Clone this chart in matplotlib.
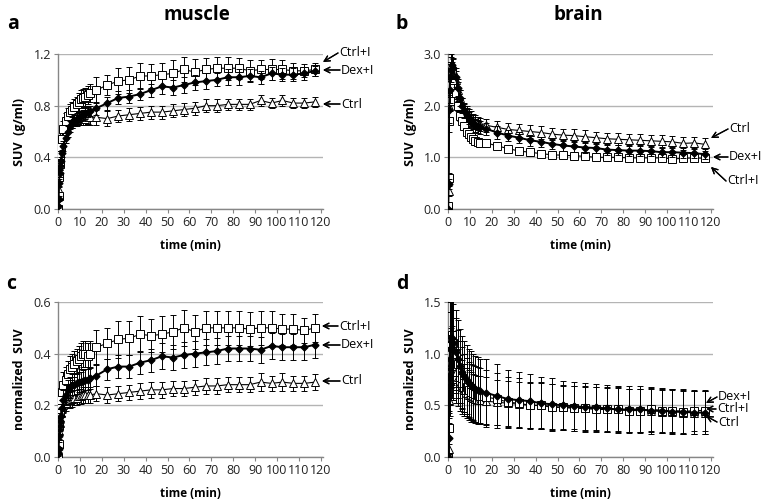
import matplotlib.pyplot as plt

plt.rcParams['font.family'] = ['Open Sans', 'DejaVu Sans']

# frame mid-times (min)
time = [0.1, 0.3, 0.5, 0.7, 0.9, 1.25, 1.75, 2.5, 3.5, 4.5, 5.5, 6.5, 7.5, 8.5, 9.5,
        10.5, 11.5, 12.5, 13.5, 14.5,
        17.5, 22.5, 27.5, 32.5, 37.5, 42.5, 47.5, 52.5, 57.5, 62.5, 67.5, 72.5, 77.5,
        82.5, 87.5, 92.5, 97.5, 102.5, 107.5, 112.5, 117.5]

# a: muscle SUV
a_ctrl_i = [0.0, 0.1, 0.25, 0.35, 0.42, 0.48, 0.54, 0.62, 0.68, 0.72, 0.75, 0.77, 0.79, 0.81, 0.83,
            0.85, 0.86, 0.87, 0.88, 0.9,
            0.92, 0.96, 0.99, 1.0, 1.03, 1.03, 1.04, 1.05, 1.08, 1.06, 1.08, 1.09, 1.09,
            1.09, 1.07, 1.08, 1.08, 1.08, 1.07, 1.07, 1.08]
a_ctrl_i_err = [0.01, 0.03, 0.05, 0.05, 0.05, 0.05, 0.05, 0.06, 0.06, 0.06, 0.06, 0.06, 0.06, 0.06, 0.07,
                0.07, 0.07, 0.07, 0.07, 0.07,
                0.1, 0.08, 0.1, 0.1, 0.1, 0.09, 0.09, 0.1, 0.1, 0.1, 0.09, 0.09, 0.09,
                0.08, 0.08, 0.07, 0.08, 0.07, 0.06, 0.05, 0.05]
a_dex_i = [0.02, 0.08, 0.2, 0.28, 0.33, 0.37, 0.43, 0.49, 0.55, 0.6, 0.64, 0.67, 0.69, 0.7, 0.71,
           0.72, 0.73, 0.74, 0.75, 0.76,
           0.78, 0.82, 0.86, 0.87, 0.89, 0.92, 0.95, 0.94, 0.96, 0.98, 0.99, 1.0, 1.02,
           1.02, 1.03, 1.02, 1.05, 1.04, 1.04, 1.05, 1.07]
a_dex_i_err = [0.01, 0.02, 0.03, 0.03, 0.03, 0.03, 0.03, 0.04, 0.04, 0.04, 0.04, 0.04, 0.04, 0.04, 0.04,
               0.04, 0.04, 0.04, 0.04, 0.04,
               0.05, 0.05, 0.05, 0.05, 0.05, 0.05, 0.06, 0.06, 0.06, 0.06, 0.06, 0.05, 0.06,
               0.06, 0.05, 0.05, 0.05, 0.05, 0.05, 0.05, 0.04]
a_ctrl = [0.02, 0.15, 0.28, 0.36, 0.42, 0.48, 0.54, 0.6, 0.64, 0.66, 0.67, 0.68, 0.69, 0.69, 0.7,
          0.7, 0.7, 0.7, 0.71, 0.71,
          0.71, 0.7, 0.72, 0.73, 0.74, 0.75, 0.75, 0.76, 0.77, 0.78, 0.8, 0.8, 0.81,
          0.81, 0.81, 0.84, 0.82, 0.84, 0.82, 0.82, 0.83]
a_ctrl_err = [0.01, 0.03, 0.04, 0.04, 0.05, 0.05, 0.05, 0.05, 0.05, 0.05, 0.05, 0.05, 0.05, 0.05, 0.05,
              0.05, 0.05, 0.05, 0.05, 0.06,
              0.06, 0.06, 0.05, 0.05, 0.05, 0.05, 0.05, 0.05, 0.05, 0.05, 0.05, 0.05, 0.04,
              0.04, 0.04, 0.04, 0.04, 0.04, 0.04, 0.04, 0.04]

# b: brain SUV
b_ctrl_i = [0.05, 0.6, 1.7, 2.1, 2.4, 2.6, 2.65, 2.5, 2.25, 2.0, 1.8, 1.7, 1.6, 1.5, 1.45,
            1.4, 1.35, 1.32, 1.3, 1.28,
            1.28, 1.22, 1.17, 1.12, 1.1, 1.07, 1.05, 1.04, 1.03, 1.02, 1.0, 1.0, 1.0,
            0.99, 0.99, 0.99, 0.99, 0.97, 0.98, 0.99, 0.98]
b_ctrl_i_err = [0.02, 0.1, 0.2, 0.2, 0.2, 0.2, 0.2, 0.15, 0.12, 0.1, 0.1, 0.08, 0.08, 0.07, 0.07,
                0.06, 0.06, 0.06, 0.06, 0.06,
                0.05, 0.05, 0.05, 0.05, 0.05, 0.05, 0.05, 0.05, 0.05, 0.05, 0.05, 0.05, 0.05,
                0.05, 0.05, 0.05, 0.05, 0.05, 0.05, 0.05, 0.05]
b_dex_i = [0.0, 0.48, 1.92, 2.3, 2.55, 2.7, 2.78, 2.72, 2.55, 2.35, 2.15, 2.0, 1.9, 1.82, 1.76,
           1.7, 1.66, 1.62, 1.6, 1.58,
           1.55, 1.48, 1.42, 1.38, 1.33, 1.3, 1.26, 1.23, 1.21, 1.19, 1.18, 1.15, 1.14,
           1.13, 1.13, 1.12, 1.1, 1.1, 1.09, 1.08, 1.06]
b_dex_i_err = [0.02, 0.1, 0.25, 0.25, 0.25, 0.25, 0.25, 0.2, 0.18, 0.16, 0.15, 0.14, 0.13, 0.13, 0.12,
               0.12, 0.12, 0.12, 0.12, 0.12,
               0.12, 0.12, 0.11, 0.11, 0.11, 0.1, 0.1, 0.1, 0.1, 0.1, 0.1, 0.1, 0.1,
               0.1, 0.1, 0.1, 0.1, 0.1, 0.1, 0.1, 0.1]
b_ctrl = [0.05, 0.35, 2.0, 2.35, 2.6, 2.75, 2.8, 2.7, 2.5, 2.3, 2.15, 2.0, 1.92, 1.85, 1.8,
          1.75, 1.7, 1.68, 1.66, 1.64,
          1.62, 1.58, 1.54, 1.52, 1.5, 1.48, 1.45, 1.43, 1.42, 1.4, 1.38, 1.36, 1.35,
          1.34, 1.33, 1.32, 1.31, 1.3, 1.27, 1.28, 1.25]
b_ctrl_err = [0.02, 0.1, 0.25, 0.25, 0.25, 0.25, 0.25, 0.2, 0.18, 0.16, 0.15, 0.15, 0.14, 0.14, 0.14,
              0.14, 0.14, 0.13, 0.13, 0.13,
              0.13, 0.13, 0.13, 0.12, 0.12, 0.12, 0.12, 0.12, 0.12, 0.12, 0.12, 0.12, 0.12,
              0.12, 0.12, 0.12, 0.12, 0.12, 0.12, 0.12, 0.12]

# c: muscle normalized SUV
c_ctrl_i = [0.0, 0.05, 0.12, 0.17, 0.2, 0.22, 0.25, 0.28, 0.3, 0.32, 0.34, 0.35, 0.36, 0.37, 0.38,
            0.39, 0.4, 0.4, 0.39, 0.4,
            0.425, 0.44, 0.455, 0.46, 0.475, 0.47, 0.475, 0.485, 0.5, 0.485, 0.5, 0.5, 0.5,
            0.5, 0.495, 0.5, 0.5, 0.495, 0.495, 0.49, 0.5]
c_ctrl_i_err = [0.01, 0.02, 0.03, 0.04, 0.04, 0.04, 0.04, 0.05, 0.05, 0.05, 0.05, 0.05, 0.05, 0.05, 0.05,
                0.05, 0.05, 0.05, 0.05, 0.05,
                0.065, 0.06, 0.07, 0.065, 0.07, 0.065, 0.07, 0.065, 0.07, 0.065, 0.065, 0.065, 0.065,
                0.065, 0.065, 0.065, 0.065, 0.06, 0.06, 0.05, 0.055]
c_dex_i = [0.01, 0.03, 0.08, 0.12, 0.14, 0.16, 0.19, 0.22, 0.24, 0.26, 0.27, 0.28, 0.28, 0.285, 0.29,
           0.29, 0.295, 0.3, 0.3, 0.305,
           0.315, 0.34, 0.35, 0.35, 0.365, 0.375, 0.39, 0.385, 0.395, 0.4, 0.405, 0.41, 0.42,
           0.42, 0.42, 0.415, 0.43, 0.425, 0.425, 0.425, 0.435]
c_dex_i_err = [0.005, 0.01, 0.02, 0.03, 0.03, 0.03, 0.03, 0.04, 0.04, 0.04, 0.04, 0.04, 0.04, 0.04, 0.04,
               0.04, 0.04, 0.04, 0.04, 0.04,
               0.04, 0.04, 0.045, 0.045, 0.045, 0.045, 0.05, 0.05, 0.05, 0.05, 0.05, 0.05, 0.05,
               0.05, 0.05, 0.05, 0.05, 0.05, 0.05, 0.05, 0.05]
c_ctrl = [0.01, 0.05, 0.1, 0.13, 0.15, 0.17, 0.19, 0.2, 0.21, 0.22, 0.22, 0.225, 0.23, 0.23, 0.235,
          0.235, 0.24, 0.24, 0.24, 0.24,
          0.245, 0.24, 0.245, 0.25, 0.255, 0.26, 0.26, 0.265, 0.265, 0.27, 0.275, 0.275, 0.28,
          0.28, 0.28, 0.29, 0.285, 0.29, 0.285, 0.285, 0.29]
c_ctrl_err = [0.005, 0.01, 0.02, 0.03, 0.03, 0.03, 0.03, 0.03, 0.03, 0.03, 0.03, 0.03, 0.03, 0.03, 0.03,
              0.03, 0.03, 0.03, 0.03, 0.03,
              0.03, 0.03, 0.03, 0.03, 0.03, 0.03, 0.03, 0.03, 0.03, 0.03, 0.03, 0.03, 0.03,
              0.03, 0.03, 0.035, 0.03, 0.035, 0.03, 0.03, 0.03]

# d: brain normalized SUV
d_ctrl_i = [0.0, 0.28, 0.8, 1.0, 1.1, 1.15, 1.18, 1.1, 1.0, 0.9, 0.82, 0.76, 0.72, 0.68, 0.65,
            0.63, 0.62, 0.61, 0.6, 0.59,
            0.58, 0.56, 0.53, 0.52, 0.5, 0.5, 0.48, 0.48, 0.47, 0.47, 0.46, 0.46, 0.46,
            0.45, 0.45, 0.46, 0.45, 0.45, 0.44, 0.45, 0.45]
d_ctrl_i_err = [0.02, 0.15, 0.35, 0.4, 0.4, 0.4, 0.4, 0.38, 0.35, 0.33, 0.3, 0.3, 0.28, 0.28, 0.27,
                0.27, 0.27, 0.27, 0.27, 0.27,
                0.26, 0.25, 0.24, 0.24, 0.23, 0.23, 0.23, 0.22, 0.22, 0.22, 0.22, 0.22, 0.22,
                0.21, 0.21, 0.21, 0.21, 0.21, 0.21, 0.2, 0.2]
d_dex_i = [0.0, 0.18, 0.78, 0.95, 1.05, 1.12, 1.15, 1.1, 1.02, 0.95, 0.88, 0.82, 0.78, 0.75, 0.72,
           0.7, 0.68, 0.66, 0.65, 0.64,
           0.62, 0.59, 0.56, 0.55, 0.54, 0.52, 0.51, 0.5, 0.49, 0.48, 0.48, 0.47, 0.46,
           0.46, 0.46, 0.45, 0.45, 0.44, 0.44, 0.43, 0.43]
d_dex_i_err = [0.02, 0.15, 0.4, 0.45, 0.45, 0.45, 0.45, 0.42, 0.4, 0.38, 0.36, 0.35, 0.34, 0.33, 0.33,
               0.33, 0.32, 0.32, 0.32, 0.31,
               0.33, 0.31, 0.28, 0.27, 0.26, 0.25, 0.25, 0.24, 0.24, 0.24, 0.23, 0.23, 0.23,
               0.23, 0.23, 0.23, 0.22, 0.22, 0.22, 0.21, 0.21]
d_ctrl = [0.0, 0.08, 0.55, 0.75, 0.85, 0.9, 0.92, 0.88, 0.82, 0.77, 0.72, 0.68, 0.65, 0.62, 0.6,
          0.58, 0.57, 0.56, 0.55, 0.55,
          0.54, 0.53, 0.52, 0.51, 0.5, 0.5, 0.49, 0.48, 0.48, 0.47, 0.47, 0.46, 0.46,
          0.45, 0.45, 0.45, 0.44, 0.44, 0.43, 0.43, 0.43]
d_ctrl_err = [0.02, 0.1, 0.3, 0.35, 0.35, 0.35, 0.35, 0.33, 0.3, 0.28, 0.27, 0.26, 0.25, 0.24, 0.24,
              0.24, 0.23, 0.23, 0.23, 0.23,
              0.23, 0.22, 0.22, 0.22, 0.22, 0.22, 0.22, 0.21, 0.21, 0.21, 0.21, 0.21, 0.21,
              0.21, 0.21, 0.21, 0.21, 0.21, 0.21, 0.21, 0.21]

axis_col = '#868686'
grid_col = '#b4b4b4'


def draw_panel(ax, ctrl, ctrl_err, ctrl_i, ctrl_i_err, dex_i, dex_i_err, ymax, yticks, ylabel):
    eb = dict(ecolor='black', elinewidth=0.7, capsize=2.3, capthick=0.7)
    ax.errorbar(time, ctrl, yerr=ctrl_err, color='black', lw=0.8, marker='^', ms=5.8,
                mfc='white', mec='black', mew=0.7, zorder=3, **eb)
    ax.errorbar(time, ctrl_i, yerr=ctrl_i_err, color='black', lw=0.8, marker='s', ms=5.8,
                mfc='white', mec='black', mew=0.7, zorder=4, **eb)
    ax.errorbar(time, dex_i, yerr=dex_i_err, color='black', lw=1.4, marker='D', ms=3.5,
                mfc='black', mec='black', zorder=5, **eb)
    ax.set_xlim(0, 121)
    ax.set_ylim(0, ymax)
    ax.set_xticks(range(0, 121, 10))
    ax.set_yticks(yticks)
    ax.set_yticklabels(['%.1f' % v for v in yticks])
    ax.grid(axis='y', color=grid_col, lw=1.0)
    ax.set_axisbelow(True)
    for s in ['top', 'right']:
        ax.spines[s].set_visible(False)
    for s in ['left', 'bottom']:
        ax.spines[s].set_color(axis_col)
        ax.spines[s].set_linewidth(1.0)
    ax.tick_params(colors=axis_col, labelcolor='#222222', labelsize=9, length=3, width=0.8, pad=2)
    ax.set_xlabel('time (min)', fontsize=8.5, fontweight='bold', labelpad=7)
    ax.set_ylabel(ylabel, fontsize=9, fontweight='bold', labelpad=5)


def label_arrow(fig, text, xy_text, xy_tip):
    W, H = 764.0, 503.0
    fig.text(xy_text[0] / W, 1 - xy_text[1] / H, text, fontsize=9, va='center', ha='left')
    fig.add_artist(plt.annotate('', xy=(xy_tip[0] / W, 1 - xy_tip[1] / H),
                                xytext=((xy_text[0] - 1) / W, 1 - xy_text[1] / H),
                                xycoords='figure fraction', textcoords='figure fraction',
                                arrowprops=dict(arrowstyle='->', lw=0.9, color='black',
                                                mutation_scale=10, shrinkA=0, shrinkB=0)))


fig = plt.figure(figsize=(7.64, 5.03), dpi=100)
W, H = 764.0, 503.0
w = 265 / W
h = 155 / H
ax_a = fig.add_axes([58 / W, 1 - 209 / H, w, h])
ax_b = fig.add_axes([448 / W, 1 - 209 / H, w, h])
ax_c = fig.add_axes([58 / W, 1 - 457 / H, w, h])
ax_d = fig.add_axes([448 / W, 1 - 457 / H, w, h])

draw_panel(ax_a, a_ctrl, a_ctrl_err, a_ctrl_i, a_ctrl_i_err, a_dex_i, a_dex_i_err,
           1.2, [0.0, 0.4, 0.8, 1.2], 'SUV  (g/ml)')
draw_panel(ax_b, b_ctrl, b_ctrl_err, b_ctrl_i, b_ctrl_i_err, b_dex_i, b_dex_i_err,
           3.0, [0.0, 1.0, 2.0, 3.0], 'SUV  (g/ml)')
draw_panel(ax_c, c_ctrl, c_ctrl_err, c_ctrl_i, c_ctrl_i_err, c_dex_i, c_dex_i_err,
           0.6, [0.0, 0.2, 0.4, 0.6], 'normalized  SUV')
draw_panel(ax_d, d_ctrl, d_ctrl_err, d_ctrl_i, d_ctrl_i_err, d_dex_i, d_dex_i_err,
           1.5, [0.0, 0.5, 1.0, 1.5], 'normalized  SUV')

fig.text(197 / W, 1 - 15 / H, 'muscle', fontsize=13.5, fontweight='bold', ha='center', va='center')
fig.text(578 / W, 1 - 15 / H, 'brain', fontsize=13.5, fontweight='bold', ha='center', va='center')
fig.text(13 / W, 1 - 24 / H, 'a', fontsize=14, fontweight='bold', ha='center', va='center')
fig.text(402 / W, 1 - 24 / H, 'b', fontsize=14, fontweight='bold', ha='center', va='center')
fig.text(11 / W, 1 - 284 / H, 'c', fontsize=14, fontweight='bold', ha='center', va='center')
fig.text(402 / W, 1 - 284 / H, 'd', fontsize=14, fontweight='bold', ha='center', va='center')

# series labels with arrows
label_arrow(fig, 'Ctrl+I', (339, 53), (323, 62))
label_arrow(fig, 'Dex+I', (341, 70), (323, 70))
label_arrow(fig, 'Ctrl', (341, 104), (323, 104))
label_arrow(fig, 'Ctrl', (729, 129), (711, 138))
label_arrow(fig, 'Dex+I', (729, 157), (713, 157))
label_arrow(fig, 'Ctrl+I', (727, 181), (711, 167))
label_arrow(fig, 'Ctrl+I', (339, 326), (322, 326))
label_arrow(fig, 'Dex+I', (341, 345), (322, 345))
label_arrow(fig, 'Ctrl', (341, 381), (322, 381))
label_arrow(fig, 'Dex+I', (718, 397), (706, 403))
label_arrow(fig, 'Ctrl+I', (717, 409), (706, 409))
label_arrow(fig, 'Ctrl', (718, 422), (706, 416))

fig.savefig('out.png', dpi=100)
